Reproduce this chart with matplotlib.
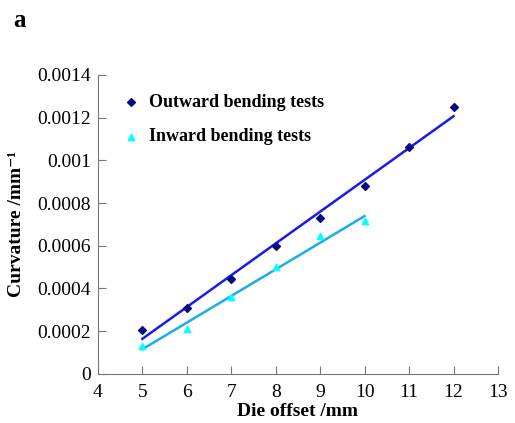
import numpy as np
import matplotlib.pyplot as plt

plt.rcParams['font.family'] = ['Liberation Serif', 'DejaVu Serif']

# die offset (mm) and measured curvature (1/mm)
out_x = [5, 6, 7, 8, 9, 10, 11, 12]
out_y = [0.000206, 0.000309, 0.000445, 0.000600, 0.000730, 0.000880, 0.001062, 0.001250]
in_x = [5, 6, 7, 8, 9, 10]
in_y = [0.000130, 0.000212, 0.000360, 0.000500, 0.000646, 0.000715]

fig = plt.figure(figsize=(5.15, 4.23), dpi=100)
ax = fig.add_axes([0.190, 0.116, 0.777, 0.707])

# linear trend lines
p_out = np.polyfit(out_x, out_y, 1)
p_in = np.polyfit(in_x, in_y, 1)
xo = np.array([out_x[0], out_x[-1]])
xi = np.array([in_x[0], in_x[-1]])
ax.plot(xo, np.polyval(p_out, xo), color='#1a1aee', lw=1.8, zorder=2)
ax.plot(xi, np.polyval(p_in, xi), color='#1aaee8', lw=1.8, zorder=2)

ax.scatter(out_x, out_y, marker='D', s=16, color='#0a0a80', zorder=3,
           label='Outward bending tests')
ax.scatter(in_x, in_y, marker='^', s=20, color='#00ffff', zorder=3,
           label='Inward bending tests')

ax.set_xlim(4, 13)
ax.set_ylim(0, 0.0014)
ax.set_xticks(range(4, 14))
yt = [0, 0.0002, 0.0004, 0.0006, 0.0008, 0.001, 0.0012, 0.0014]
ax.set_yticks(yt)
ax.set_yticklabels(['0', '0.0002', '0.0004', '0.0006', '0.0008', '0.001', '0.0012', '0.0014'])

for s in ['top', 'right']:
    ax.spines[s].set_visible(False)
for s in ['left', 'bottom']:
    ax.spines[s].set_color('#777777')
ax.tick_params(direction='in', length=6, color='#777777', labelsize=14)
ax.tick_params(axis='y', pad=5)
ax.tick_params(axis='x', pad=7)

ax.set_xlabel('Die offset /mm', fontsize=14, fontweight='bold', labelpad=2)
ax.set_ylabel('Curvature /mm\u207b\u00b9', fontsize=14, fontweight='bold', labelpad=9)

ax.legend(loc='upper left', bbox_to_anchor=(0.02, 0.99), frameon=False,
          prop={'weight': 'bold', 'size': 13}, handletextpad=0.5, labelspacing=0.95,
          handlelength=1.0)

fig.text(0.025, 0.935, 'a', fontsize=18, fontweight='bold')

fig.savefig('out.png', dpi=100)
